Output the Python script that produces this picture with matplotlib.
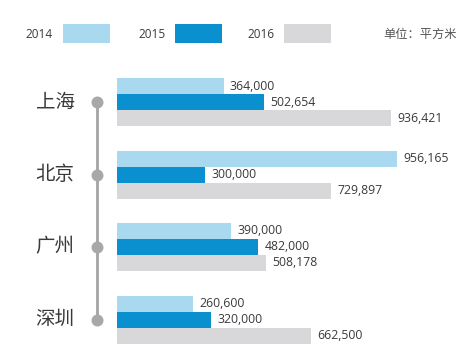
import matplotlib
matplotlib.use("Agg")
import matplotlib.pyplot as plt
from matplotlib.patches import Rectangle

cities = ["上海", "北京", "广州", "深圳"]
years = ["2014", "2015", "2016"]
v2014 = [364000, 956165, 390000, 260600]
v2015 = [502654, 300000, 482000, 320000]
v2016 = [936421, 729897, 508178, 662500]
unit_label = "单位：平方米"

colors = ["#a9d9ef", "#0a8fcf", "#d8d8da"]
W, H = 469, 354
fig = plt.figure(figsize=(W / 100, H / 100), dpi=100)
fig.patch.set_facecolor("white")

x0_px, width_px = 117, 293
ax = fig.add_axes([x0_px / W, 0, width_px / W, 1])
ax.set_xlim(0, 1e6)
ax.set_ylim(H, 0)
ax.axis("off")

def xd(px):
    return (px - x0_px) / width_px * 1e6

first_center = 86
group_gap = 72.5
bar_h = 16
series = [v2014, v2015, v2016]
numfont = dict(family=["Open Sans", "DejaVu Sans"], fontsize=8.8, color="#3a3a3a")

dot_ys = []
for i, city in enumerate(cities):
    base = first_center + i * group_gap
    for k, vals in enumerate(series):
        yc = base + k * bar_h
        ax.barh(yc, vals[i], height=bar_h, color=colors[k], edgecolor="none")
        ax.annotate(f"{vals[i]:,}", (vals[i], yc), xytext=(4.5, 0),
                    textcoords="offset points", va="center", ha="left", **numfont)
    yd = base + bar_h
    dot_ys.append(yd)
    ax.text(xd(55), yd, city, ha="center", va="center", fontsize=14,
            fontweight="light",
            family=["Noto Sans CJK SC", "DejaVu Sans"], color="#3a3a3a", clip_on=False)

ax.plot([xd(97), xd(97)], [dot_ys[0], dot_ys[-1]], color="#a3a3a6", lw=2,
        clip_on=False, zorder=1, solid_capstyle="butt")
ax.plot([xd(97)] * len(dot_ys), dot_ys, "o", ms=8.6, color="#a8a8ab",
        clip_on=False, zorder=2, markeredgewidth=0)

# legend
leg_y = 1 - 34 / H
text_x = [25, 138, 247]
sw_x = [63, 175, 284]
for t, sx, c, yr in zip(text_x, sw_x, colors, years):
    fig.text(t / W, leg_y, yr, ha="left", va="center",
             family=["Open Sans", "DejaVu Sans"], fontsize=8.5, color="#3a3a3a")
    fig.patches.append(Rectangle((sx / W, 1 - 43 / H), 47 / W, 19 / H,
                                 transform=fig.transFigure, facecolor=c,
                                 edgecolor="none"))
fig.text(383 / W, leg_y, unit_label, ha="left", va="center",
         family=["Noto Sans CJK SC", "DejaVu Sans"], fontsize=8.8, color="#555555")

fig.savefig("out.png", dpi=100, facecolor="white")
